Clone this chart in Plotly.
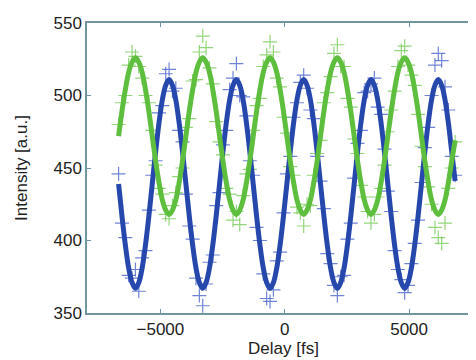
import plotly.graph_objects as go

# Delay values (fs)
delay = [
    -6680, -6545, -6409, -6274, -6139, -6003, -5868, -5733, -5598, -5462,
    -5327, -5192, -5056, -4921, -4786, -4650, -4515, -4380, -4245, -4109,
    -3974, -3839, -3703, -3568, -3433, -3297, -3162, -3027, -2892, -2756,
    -2621, -2486, -2350, -2215, -2080, -1944, -1809, -1674, -1539, -1403,
    -1268, -1133, -997, -862, -727, -591, -456, -321, -186, -50,
    85, 220, 356, 491, 626, 762, 897, 1032, 1167, 1303,
    1438, 1573, 1709, 1844, 1979, 2115, 2250, 2385, 2520, 2656,
    2791, 2926, 3062, 3197, 3332, 3468, 3603, 3738, 3873, 4009,
    4144, 4279, 4415, 4550, 4685, 4821, 4956, 5091, 5226, 5362,
    5497, 5632, 5768, 5903, 6038, 6174, 6309, 6444, 6579, 6715,
    6850,
]

# Measured intensities (markers)
blue_meas = [
    446, 412, 402, 376, 374, 380, 365, 388, 393, 421,
    445, 455, 488, 493, 515, 518, 503, 505, 476, 468,
    432, 410, 401, 374, 362, 355, 370, 385, 390, 424,
    433, 466, 476, 504, 512, 522, 500, 499, 486, 455,
    445, 409, 400, 377, 360, 358, 366, 386, 392, 419,
    446, 458, 485, 495, 509, 514, 505, 490, 484, 458,
    441, 422, 391, 384, 369, 362, 375, 376, 401, 412,
    443, 467, 476, 502, 503, 508, 512, 492, 487, 463,
    434, 420, 393, 380, 373, 364, 369, 384, 398, 414,
    440, 464, 478, 500, 521, 529, 524, 506, 490, 458,
    445,
]
green_meas = [
    480, 495, 500, 521, 530, 527, 520, 512, 500, 495,
    476, 452, 436, 432, 418, 415, 424, 433, 444, 450,
    478, 484, 510, 511, 530, 541, 533, 519, 508, 482,
    468, 459, 436, 432, 414, 420, 411, 431, 446, 449,
    476, 493, 498, 520, 528, 537, 530, 512, 506, 485,
    474, 451, 445, 423, 419, 410, 425, 424, 445, 460,
    469, 495, 502, 513, 529, 535, 520, 520, 498, 492,
    470, 460, 438, 430, 420, 412, 418, 430, 436, 452,
    475, 490, 503, 520, 531, 534, 521, 514, 507, 487,
    465, 451, 437, 425, 409, 402, 398, 412, 436, 450,
    468,
]

# Fitted curves
blue_fit = [
    439, 417, 397, 381, 371, 367, 371, 381, 397, 417,
    439, 461, 481, 497, 507, 511, 507, 497, 481, 461,
    439, 417, 397, 381, 371, 367, 371, 381, 397, 417,
    439, 461, 481, 497, 507, 511, 507, 497, 481, 461,
    439, 417, 397, 381, 371, 367, 371, 381, 397, 417,
    439, 461, 481, 497, 507, 511, 507, 497, 481, 461,
    439, 417, 397, 381, 371, 367, 371, 381, 397, 417,
    439, 461, 481, 497, 507, 511, 507, 497, 481, 461,
    439, 417, 397, 381, 371, 367, 371, 381, 397, 417,
    439, 461, 481, 497, 507, 511, 507, 497, 481, 461,
    441,
]
green_fit = [
    472, 489, 504, 516, 523, 526, 523, 516, 504, 489,
    472, 455, 440, 428, 421, 418, 421, 428, 440, 455,
    472, 489, 504, 516, 523, 526, 523, 516, 504, 489,
    472, 455, 440, 428, 421, 418, 421, 428, 440, 455,
    472, 489, 504, 516, 523, 526, 523, 516, 504, 489,
    472, 455, 440, 428, 421, 418, 421, 428, 440, 455,
    472, 489, 504, 516, 523, 526, 523, 516, 504, 489,
    472, 455, 440, 428, 421, 418, 421, 428, 440, 455,
    472, 489, 504, 516, 523, 526, 523, 516, 504, 489,
    472, 455, 440, 428, 421, 418, 421, 428, 440, 455,
    469,
]

x_ticks = [-5000, 0, 5000]
y_ticks = [350, 400, 450, 500, 550]

BLUE_LINE = "rgb(38,72,172)"
GREEN_LINE = "rgb(94,190,62)"
BLUE_MARK = "rgba(75,100,205,0.8)"
GREEN_MARK = "rgba(120,202,90,0.8)"
AXIS = "#6f95a0"
FONT = "Liberation Sans, Arial, sans-serif"

fig = go.Figure()
fig.add_trace(go.Scatter(x=delay, y=blue_meas, mode="markers",
                         marker=dict(symbol="cross-thin", size=10,
                                     line=dict(color=BLUE_MARK, width=1.2)),
                         showlegend=False))
fig.add_trace(go.Scatter(x=delay, y=green_meas, mode="markers",
                         marker=dict(symbol="cross-thin", size=10,
                                     line=dict(color=GREEN_MARK, width=1.2)),
                         showlegend=False))
fig.add_trace(go.Scatter(x=delay, y=blue_fit, mode="lines",
                         line=dict(color=BLUE_LINE, width=5, shape="spline"),
                         showlegend=False))
fig.add_trace(go.Scatter(x=delay, y=green_fit, mode="lines",
                         line=dict(color=GREEN_LINE, width=5, shape="spline"),
                         showlegend=False))

fig.update_layout(
    width=476, height=360,
    margin=dict(l=79, r=2, t=15, b=55),
    paper_bgcolor="white", plot_bgcolor="white",
    font=dict(family=FONT, size=17, color="#222"),
    xaxis=dict(range=[-7950, 7850], tickvals=x_ticks,
               ticktext=["\u22125000", "0", "5000"],
               showgrid=False, zeroline=False,
               showline=True, linecolor=AXIS, linewidth=1.5, mirror="ticks",
               ticks="inside", ticklen=4, tickcolor=AXIS,
               title=dict(text="Delay [fs]", standoff=2,
                          font=dict(size=17))),
    yaxis=dict(range=[350, 550], tickvals=y_ticks,
               showgrid=False, zeroline=False,
               showline=True, linecolor=AXIS, linewidth=1.5, mirror="ticks",
               ticks="inside", ticklen=4, tickcolor=AXIS,
               title=dict(text="Intensity [a.u.]", standoff=22,
                          font=dict(size=17))),
)

fig.write_html("out.html")
